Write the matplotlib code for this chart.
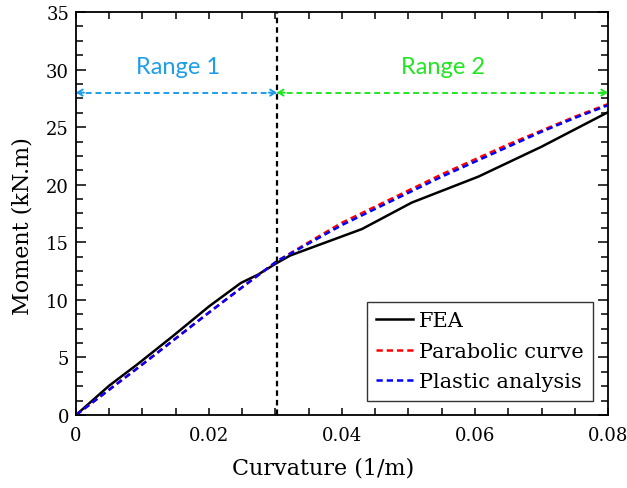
"""Moment-curvature comparison: FEA vs parabolic curve vs plastic analysis."""

import matplotlib
matplotlib.use("Agg")
import matplotlib.pyplot as plt
from matplotlib.ticker import MultipleLocator

# data
fea_k = [0, 0.005, 0.0093, 0.0145, 0.020, 0.0248, 0.0273, 0.0302, 0.0322,
         0.0430, 0.0505, 0.0605, 0.070, 0.080]
fea_m = [0, 2.55, 4.43, 6.82, 9.43, 11.47, 12.17, 13.2, 13.85,
         16.15, 18.45, 20.7, 23.3, 26.3]

para_k = [0, 0.010, 0.020, 0.025, 0.0302, 0.035, 0.040, 0.045, 0.050,
          0.055, 0.060, 0.065, 0.070, 0.075, 0.080]
para_m = [0, 4.4, 8.9, 11.1, 13.35, 15.0, 16.7, 18.1, 19.5,
          20.9, 22.2, 23.5, 24.7, 25.9, 27.0]

plast_k = [0, 0.010, 0.020, 0.025, 0.0302, 0.035, 0.040, 0.045, 0.050,
           0.055, 0.060, 0.065, 0.070, 0.075, 0.080]
plast_m = [0, 4.4, 8.9, 11.1, 13.35, 14.9, 16.5, 17.9, 19.3,
           20.7, 22.0, 23.3, 24.6, 25.8, 26.9]

split_k = 0.0302
arrow_m = 28
range_labels = ["Range 1", "Range 2"]
range_text_k = [0.0153, 0.0552]
range_text_m = 30.3
xtick_vals = [0, 0.02, 0.04, 0.06, 0.08]
xtick_labels = ["0", "0.02", "0.04", "0.06", "0.08"]

BLUE_R = "#1f9ee8"
GREEN_R = "#22e622"

fig = plt.figure(figsize=(6.27, 4.89), dpi=100)
ax = fig.add_axes([0.1212, 0.1493, 0.8485, 0.8241])

ax.plot(fea_k, fea_m, color="black", lw=1.8, label="FEA")
ax.plot(para_k, para_m, color="red", lw=1.8, dashes=(2.5, 1.6), label="Parabolic curve")
ax.plot(plast_k, plast_m, color="blue", lw=1.8, dashes=(2.5, 1.6), label="Plastic analysis")

ax.axvline(split_k, color="black", lw=1.6, dashes=(2.5, 1.8))

# range arrows
spans = [(0, split_k, BLUE_R), (split_k, 0.08, GREEN_R)]
for x0, x1, c in spans:
    ax.plot([x0, x1], [arrow_m, arrow_m], color=c, lw=1.4, dashes=(3, 2))
    head = dict(arrowstyle="->,head_length=0.35,head_width=0.22", color=c, lw=1.4,
                shrinkA=0, shrinkB=0)
    ax.annotate("", xy=(x0, arrow_m), xytext=(x0 + 0.0012, arrow_m), arrowprops=head)
    ax.annotate("", xy=(x1, arrow_m), xytext=(x1 - 0.0012, arrow_m), arrowprops=head)

for lbl, k, c in zip(range_labels, range_text_k, [BLUE_R, GREEN_R]):
    ax.text(k, range_text_m, lbl, color=c, fontsize=17, family="Lato",
            ha="center", va="center")

ax.set_xlim(0, 0.08)
ax.set_ylim(0, 35)
ax.set_xticks(xtick_vals)
ax.set_xticklabels(xtick_labels)
ax.xaxis.set_minor_locator(MultipleLocator(0.005))
ax.yaxis.set_major_locator(MultipleLocator(5))
ax.yaxis.set_minor_locator(MultipleLocator(1.25))

ax.tick_params(which="both", direction="in", top=True, right=True, width=1.1,
               labelsize=13)
ax.tick_params(axis="x", which="both", length=4.8, pad=8)
ax.tick_params(axis="y", which="major", length=7, pad=5)
ax.tick_params(axis="y", which="minor", length=4.8)
for lab in ax.get_xticklabels() + ax.get_yticklabels():
    lab.set_family("DejaVu Serif")
for sp in ax.spines.values():
    sp.set_linewidth(1.3)

ax.set_xlabel("Curvature (1/m)", family="DejaVu Serif", fontsize=16)
ax.set_ylabel("Moment (kN.m)", family="DejaVu Serif", fontsize=16)
ax.xaxis.set_label_coords(0.464, -0.103)
ax.yaxis.set_label_coords(-0.08, 0.471)

leg = ax.legend(loc="lower right", bbox_to_anchor=(0.972, 0.0355), borderaxespad=0,
                prop={"family": "DejaVu Serif", "size": 15}, frameon=True,
                fancybox=False, edgecolor="black", handlelength=1.75,
                handletextpad=0.3, labelspacing=0.55, borderpad=0.45)
leg.get_frame().set_linewidth(1.0)

fig.savefig("out.png", dpi=100)
